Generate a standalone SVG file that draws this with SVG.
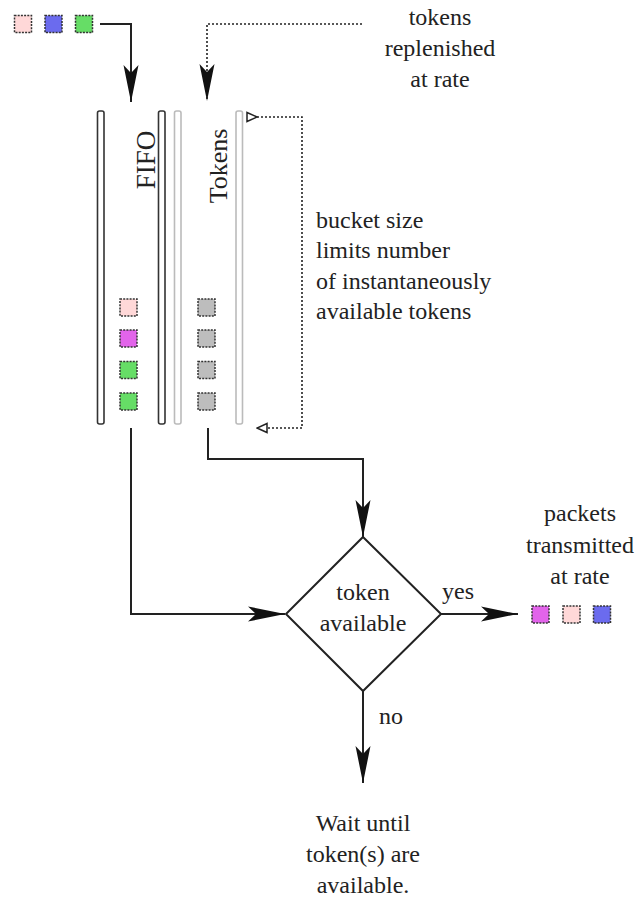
<svg xmlns="http://www.w3.org/2000/svg" width="638" height="897" viewBox="0 0 638 897">
<style>
text{font-family:"Liberation Serif","Times New Roman",serif;fill:#222;font-size:24px}
.c{text-anchor:middle}
.sq{stroke:#333;stroke-width:1.5;stroke-dasharray:2,1.2}
.bar{fill:#fff;stroke:#333;stroke-width:1.6}
.lbar{fill:#fff;stroke:#bbb;stroke-width:1.6}
.ln{fill:none;stroke:#222;stroke-width:2}
.dt{fill:none;stroke:#222;stroke-width:1.6;stroke-dasharray:2,2}
</style>
<defs>
<marker id="ah" markerUnits="userSpaceOnUse" viewBox="-38 -8 39 16" refX="0" refY="0" markerWidth="39" markerHeight="16" orient="auto">
<path d="M0,0 L-37,-7.5 L-29,0 L-37,7.5 Z" fill="#111"/>
</marker>
<marker id="oa" markerUnits="userSpaceOnUse" viewBox="-12 -6 13 12" refX="0" refY="0" markerWidth="13" markerHeight="12" orient="auto">
<path d="M0,0 L-10,-4.5 L-10,4.5 Z" fill="#fff" stroke="#222" stroke-width="1.5"/>
</marker>
</defs>

<g id="connectors">
<path class="ln" d="M100,24 H131 V102" marker-end="url(#ah)"/>
<path class="dt" d="M362,24 H207 V101" marker-end="url(#ah)"/>
<path class="dt" d="M257,117 H302 V428 H257" marker-start="url(#oa)" marker-end="url(#oa)"/>
<path class="ln" d="M131,428 V614 H285" marker-end="url(#ah)"/>
<path class="ln" d="M208,428 V459 H363 V537" marker-end="url(#ah)"/>
<path class="ln" d="M441,614 H518" marker-end="url(#ah)"/>
<path class="ln" d="M363,691 V783" marker-end="url(#ah)"/>
</g>

<g id="input-packets">
<rect class="sq" x="14.5" y="15.5" width="17" height="17" fill="#ffd8d8"/>
<rect class="sq" x="45" y="15.5" width="17" height="17" fill="#6b6bee"/>
<rect class="sq" x="75.5" y="15.5" width="17" height="17" fill="#66dd66"/>
</g>

<g id="fifo">
<rect class="bar" x="97.5" y="111" width="6.5" height="313" rx="2"/>
<rect class="bar" x="158.5" y="111" width="6.5" height="313" rx="2"/>
<text transform="translate(155,160) rotate(-90)" class="c" style="font-size:27px">FIFO</text>
<rect class="sq" x="120" y="299" width="17" height="17" fill="#ffd8d8"/>
<rect class="sq" x="120" y="330" width="17" height="17" fill="#e264ea"/>
<rect class="sq" x="120" y="361.5" width="17" height="17" fill="#66dd66"/>
<rect class="sq" x="120" y="393" width="17" height="17" fill="#66dd66"/>
</g>

<g id="tokens">
<rect class="lbar" x="174.5" y="111" width="6.5" height="313" rx="2"/>
<rect class="lbar" x="236" y="111" width="6.5" height="313" rx="2"/>
<text transform="translate(227,166) rotate(-90)" class="c" style="font-size:26px">Tokens</text>
<rect class="sq" x="198" y="299" width="17" height="17" fill="#bdbdbd"/>
<rect class="sq" x="198" y="330" width="17" height="17" fill="#bdbdbd"/>
<rect class="sq" x="198" y="361.5" width="17" height="17" fill="#bdbdbd"/>
<rect class="sq" x="198" y="393" width="17" height="17" fill="#bdbdbd"/>
</g>

<g id="replenish-label">
<text class="c" x="440" y="25">tokens</text>
<text class="c" x="440" y="56">replenished</text>
<text class="c" x="440" y="87">at rate</text>
</g>

<g id="bucket-label">
<text x="316" y="228">bucket size</text>
<text x="316" y="258">limits number</text>
<text x="316" y="289">of instantaneously</text>
<text x="316" y="319">available tokens</text>
</g>

<g id="decision">
<path d="M363,537 L441,614 L363,691 L286,614 Z" fill="#fff" stroke="#222" stroke-width="2"/>
<text class="c" x="363" y="600">token</text>
<text class="c" x="363" y="631">available</text>
</g>

<g id="yes-label"><text x="442" y="599">yes</text></g>
<g id="no-label"><text x="379" y="724">no</text></g>

<g id="output">
<text class="c" x="580" y="521">packets</text>
<text class="c" x="580" y="553">transmitted</text>
<text class="c" x="580" y="584">at rate</text>
<rect class="sq" x="532" y="606" width="17" height="17" fill="#e264ea"/>
<rect class="sq" x="563" y="606" width="17" height="17" fill="#ffd8d8"/>
<rect class="sq" x="593.5" y="606" width="17" height="17" fill="#6b6bee"/>
</g>

<g id="wait">
<text class="c" x="363" y="831">Wait until</text>
<text class="c" x="363" y="862">token(s) are</text>
<text class="c" x="363" y="893">available.</text>
</g>
</svg>
